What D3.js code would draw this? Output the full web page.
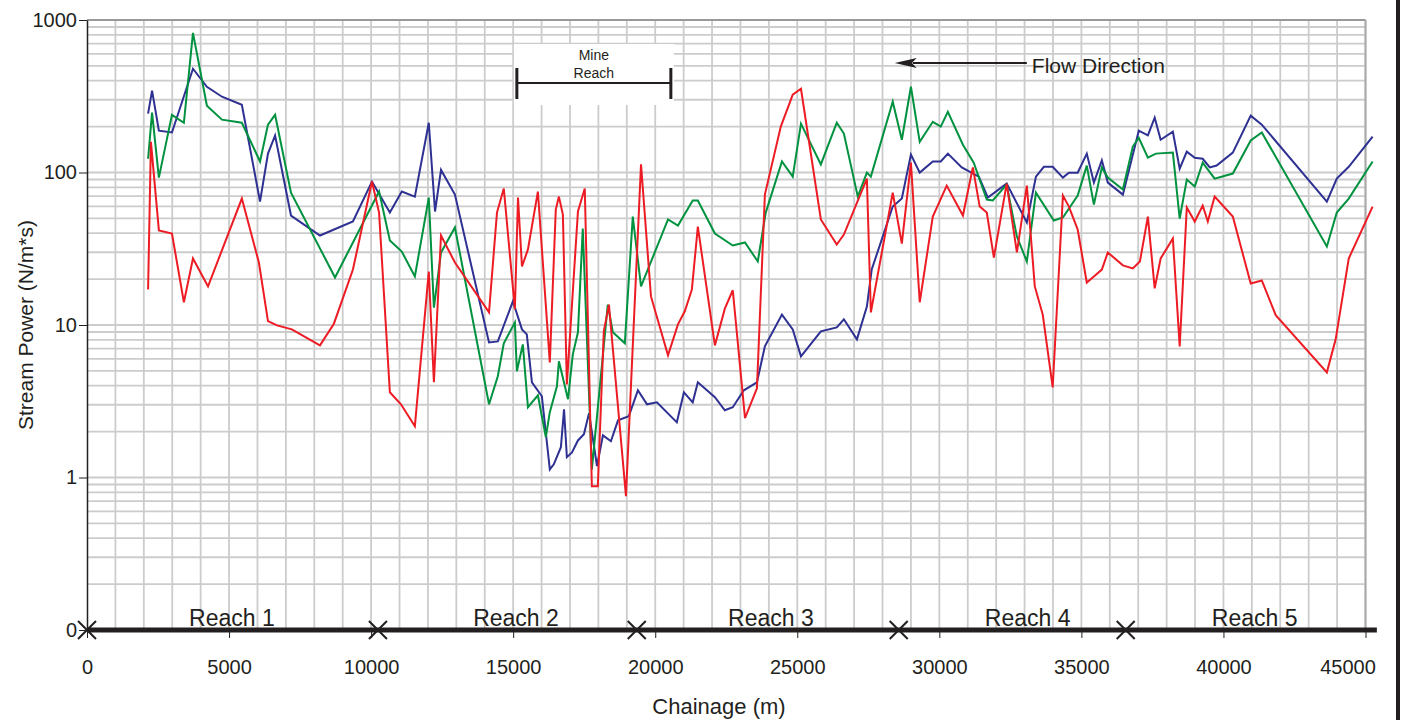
<!DOCTYPE html>
<html>
<head>
<meta charset="utf-8">
<script src="https://cdn.jsdelivr.net/npm/d3@7"></script>
<style>
  body { margin: 0; background: #fff; }
  text { font-family: "Liberation Sans", Arial, sans-serif; fill: #231f20; }
</style>
</head>
<body>
<div id="chart"></div>
<script>
// series data: [chainage (m), stream power (N/m*s)]
const blueSeries = [[2150,243],[2290,344],[2530,188],[2990,183],[3730,479],[4220,365],[4750,314],[5450,278],[6090,64.5],[6370,133],[6620,175],[7180,52.2],[8200,38.6],[9360,47.7],[10030,87.2],[10660,54.6],[11080,75],[11540,69.5],[12030,212],[12250,55.5],[12460,104],[12950,71.6],[14150,7.69],[14460,7.81],[14990,14.3],[15310,9.36],[15480,8.68],[15660,4.21],[16010,3.41],[16290,1.13],[16430,1.22],[16680,1.58],[16790,2.8],[16890,1.36],[17070,1.46],[17280,1.75],[17490,1.92],[17670,2.64],[17950,1.19],[18160,1.89],[18440,1.73],[18690,2.37],[19070,2.52],[19390,3.73],[19710,3.02],[20060,3.11],[20760,2.3],[21010,3.62],[21320,3.11],[21500,4.21],[22100,3.36],[22450,2.76],[22730,2.89],[23120,3.73],[23580,4.21],[23860,7.24],[24460,11.7],[24840,9.36],[25130,6.23],[25830,9.08],[26390,9.64],[26640,10.9],[27100,8.05],[27450,13.2],[27620,23.1],[28360,59.8],[28680,67.5],[29000,131],[29310,99.8],[29770,118],[30050,118],[30300,133],[30790,108],[31390,94],[31710,68.5],[32370,84.6],[33080,47],[33400,94],[33680,109],[33990,109],[34350,92.6],[34560,99.8],[34870,99.8],[35190,133],[35440,85.9],[35720,120],[35930,85.9],[36460,71.6],[37020,188],[37340,175],[37580,229],[37790,164],[38220,185],[38460,106],[38710,137],[38990,125],[39270,123],[39520,108],[39760,111],[40330,135],[40960,236],[41350,206],[43640,64.5],[43990,91.2],[44410,109],[45250,172]];

const greenSeries = [[2150,123],[2290,247],[2530,92.6],[2990,239],[3410,212],[3730,824],[4220,274],[4750,222],[5450,212],[6090,118],[6370,206],[6620,239],[7180,73.8],[8730,20.5],[10280,75],[10660,35.8],[11080,30.3],[11540,20.8],[12030,68.5],[12210,13],[12460,29.9],[12950,43.6],[14150,3.02],[14460,4.61],[14670,7.58],[15060,10.4],[15130,4.97],[15340,7.46],[15520,2.89],[15870,3.46],[16150,1.84],[16290,2.68],[16540,3.96],[16610,5.78],[16930,3.26],[17100,6.42],[17280,8.95],[17450,42.9],[17770,1.13],[18330,13.6],[18510,8.95],[18930,7.58],[19210,51.4],[19500,17.9],[20450,49.2],[20800,44.9],[21320,65.5],[21500,65.5],[22100,39.8],[22730,33.2],[23160,34.8],[23610,26.1],[23890,54.6],[24460,118],[24840,94],[25130,209],[25830,113],[26390,212],[26640,180],[27130,69.5],[27450,99.8],[27590,94],[28360,291],[28680,164],[29000,365],[29310,159],[29770,215],[30050,200],[30300,250],[30830,152],[31210,116],[31670,66.5],[31880,65.5],[32370,83.3],[32730,38],[33080,26.1],[33400,73.8],[34030,48.4],[34350,50.7],[34870,70.6],[35190,111],[35440,61.6],[35720,108],[35930,92.6],[36460,77.3],[36810,148],[37020,169],[37340,125],[37620,133],[38220,135],[38460,49.9],[38710,89.9],[38990,80.9],[39270,116],[39690,91.2],[40330,98.4],[40960,162],[41350,183],[43640,32.7],[43990,54.6],[44410,67.5],[45250,118]];

const redSeries = [[2150,17.1],[2250,159],[2530,41.7],[2990,39.8],[3410,14.1],[3730,27.3],[4260,17.9],[5450,67.5],[6050,25.7],[6370,10.6],[6690,9.94],[7210,9.36],[8200,7.35],[8690,10.2],[9360,23.1],[10030,87.2],[10280,54.6],[10660,3.62],[11050,3.02],[11540,2.17],[12030,22.4],[12210,4.21],[12460,38.6],[12950,25.7],[14150,12.1],[14430,54.6],[14670,78.5],[15060,12.7],[15170,68.5],[15310,24.2],[15520,31.3],[15870,75],[16290,5.69],[16500,57.1],[16610,69.5],[16750,53],[16890,4.08],[17280,55.5],[17520,78.5],[17770,0.877],[17980,0.877],[18190,9.08],[18370,13.6],[18970,0.755],[19500,113],[19850,15.4],[20450,6.32],[20800,10.1],[21040,12.3],[21290,17.1],[21500,44.2],[22100,7.35],[22450,12.8],[22730,16.9],[23160,2.45],[23580,3.84],[23860,71.6],[24420,200],[24840,324],[25130,354],[25830,49.2],[26390,33.7],[26640,39.2],[27450,91.2],[27590,12.1],[28360,73.8],[28680,34.2],[29000,116],[29310,14.1],[29770,51.4],[30260,82],[30830,52.2],[31180,108],[31420,59.8],[31670,54.6],[31920,27.7],[32370,84.6],[32730,29.9],[33080,82],[33360,17.9],[33640,11.7],[33990,3.9],[34350,70.6],[34560,59.8],[34870,42.3],[35190,19],[35440,20.8],[35720,23.1],[35930,29.9],[36460,24.6],[36810,23.5],[37060,26.1],[37340,51.4],[37580,17.4],[37790,27.3],[38220,36.9],[38460,7.24],[38710,58.9],[38990,47.7],[39270,60.7],[39450,47.7],[39690,69.5],[40330,51.4],[40960,18.7],[41350,19.6],[41840,11.6],[43640,4.89],[43950,8.05],[44410,27.3],[45250,59.8]];

const xTicks = [0, 5000, 10000, 15000, 20000, 25000, 30000, 35000, 40000, 45000];
const yTicks = [0.1, 1, 10, 100, 1000];
const yTickLabels = ["0", "1", "10", "100", "1000"];
const reachBreaks = [0, 10240, 19350, 28570, 36560];
const reachNames = ["Reach 1", "Reach 2", "Reach 3", "Reach 4", "Reach 5"];
const reachLabelAt = [5100, 15100, 24070, 33110, 41100];
const mineReach = [15130, 20550];
const flowArrow = [33080, 28430];

// set the dimensions and margins of the graph
const margin = {top: 20, left: 87},
  width = 1278.5,
  height = 610;

const svg = d3.select("#chart")
  .append("svg")
  .attr("width", 1407)
  .attr("height", 720);

const g = svg.append("g")
  .attr("transform", `translate(${margin.left},${margin.top})`);

const x = d3.scaleLinear().domain([0, 45000]).range([0, width]);
const y = d3.scaleLog().domain([0.1, 1000]).range([height, 0]);

// grid
g.append("g").selectAll("line")
  .data(d3.range(1000, 45001, 1000))
  .join("line")
  .attr("x1", d => x(d)).attr("x2", d => x(d))
  .attr("y1", 0).attr("y2", height)
  .attr("stroke", "#cccccc").attr("stroke-width", 1.8);

g.append("g").selectAll("line")
  .data(y.ticks())
  .join("line")
  .attr("x1", 0).attr("x2", width)
  .attr("y1", d => y(d)).attr("y2", d => y(d))
  .attr("stroke", "#cccccc").attr("stroke-width", 1.8);

// frame top and right
g.append("line").attr("x1", 0).attr("x2", width).attr("y1", 0).attr("y2", 0)
  .attr("stroke", "#999").attr("stroke-width", 2);
g.append("line").attr("x1", width).attr("x2", width).attr("y1", 0).attr("y2", height)
  .attr("stroke", "#aaa").attr("stroke-width", 2);

// mine reach box
const mx0 = x(mineReach[0]), mx1 = x(mineReach[1]);
g.append("rect").attr("x", mx0 - 3).attr("y", 24)
  .attr("width", mx1 - mx0 + 6).attr("height", 61).attr("fill", "#fff");
g.append("line").attr("x1", mx0).attr("x2", mx1).attr("y1", 63).attr("y2", 63)
  .attr("stroke", "#231f20").attr("stroke-width", 2);
[mx0, mx1].forEach(v => {
  g.append("line").attr("x1", v).attr("x2", v).attr("y1", 48).attr("y2", 79)
    .attr("stroke", "#231f20").attr("stroke-width", 3);
});
g.append("text").attr("x", (mx0 + mx1) / 2).attr("y", 40)
  .attr("text-anchor", "middle").style("font-size", "14px").text("Mine");
g.append("text").attr("x", (mx0 + mx1) / 2).attr("y", 58)
  .attr("text-anchor", "middle").style("font-size", "14px").text("Reach");

// flow direction
const fa0 = x(flowArrow[0]), fa1 = x(flowArrow[1]);
g.append("line").attr("x1", fa0).attr("x2", fa1 + 18).attr("y1", 43).attr("y2", 43)
  .attr("stroke", "#231f20").attr("stroke-width", 2);
g.append("path")
  .attr("d", `M${fa1},43L${fa1 + 22},38L${fa1 + 17},43L${fa1 + 22},48Z`)
  .attr("fill", "#231f20");
g.append("text").attr("x", fa0 + 5).attr("y", 53)
  .style("font-size", "21px").text("Flow Direction");

// series
const line = d3.line().x(d => x(d[0])).y(d => y(d[1]));
[[blueSeries, "#2e3192"], [greenSeries, "#00923f"], [redSeries, "#ed1c24"]].forEach(([s, c]) => {
  g.append("path").datum(s)
    .attr("fill", "none").attr("stroke", c)
    .attr("stroke-width", 2).attr("stroke-linejoin", "miter")
    .attr("d", line);
});

// axes
const yAxis = g.append("g")
  .call(d3.axisLeft(y).tickValues(yTicks).tickFormat((d, i) => yTickLabels[i])
    .tickSize(8).tickSizeOuter(0).tickPadding(2));
yAxis.select(".domain").attr("stroke", "#231f20").attr("stroke-width", 1.5);
yAxis.selectAll(".tick line").attr("stroke", "#231f20");
yAxis.selectAll("text").style("font-size", "20px").attr("fill", "#231f20");

const xAxis = g.append("g")
  .attr("transform", `translate(0,${height})`)
  .call(d3.axisBottom(x).tickValues(xTicks).tickFormat(d3.format("d"))
    .tickSize(8).tickPadding(22));
xAxis.select(".domain").remove();
xAxis.selectAll(".tick line").attr("stroke", "#231f20");
xAxis.selectAll("text").style("font-size", "20px").attr("fill", "#231f20");
// last label sits a little left of its tick, clear of the frame
xAxis.selectAll("text").filter(d => d === 45000).attr("dx", -18);

// reach baseline and markers
g.append("line").attr("x1", 0).attr("x2", x(45400))
  .attr("y1", height).attr("y2", height)
  .attr("stroke", "#231f20").attr("stroke-width", 5);
g.append("g").selectAll("path")
  .data(reachBreaks)
  .join("path")
  .attr("transform", d => `translate(${x(d)},${height})`)
  .attr("d", "M-9,-9L9,9M-9,9L9,-9")
  .attr("stroke", "#231f20").attr("stroke-width", 2);
g.append("g").selectAll("text")
  .data(reachNames)
  .join("text")
  .attr("x", (d, i) => x(reachLabelAt[i]))
  .attr("y", height - 4)
  .attr("text-anchor", "middle")
  .style("font-size", "23px")
  .text(d => d);

// titles
svg.append("text").attr("x", 719).attr("y", 714)
  .attr("text-anchor", "middle").style("font-size", "22px").text("Chainage (m)");
svg.append("text")
  .attr("transform", "translate(33,325) rotate(-90)")
  .attr("text-anchor", "middle").style("font-size", "21px").text("Stream Power (N/m*s)");

// right frame bar
svg.append("line").attr("x1", 1398).attr("x2", 1398).attr("y1", 0).attr("y2", 720)
  .attr("stroke", "#231f20").attr("stroke-width", 4);
</script>
</body>
</html>
